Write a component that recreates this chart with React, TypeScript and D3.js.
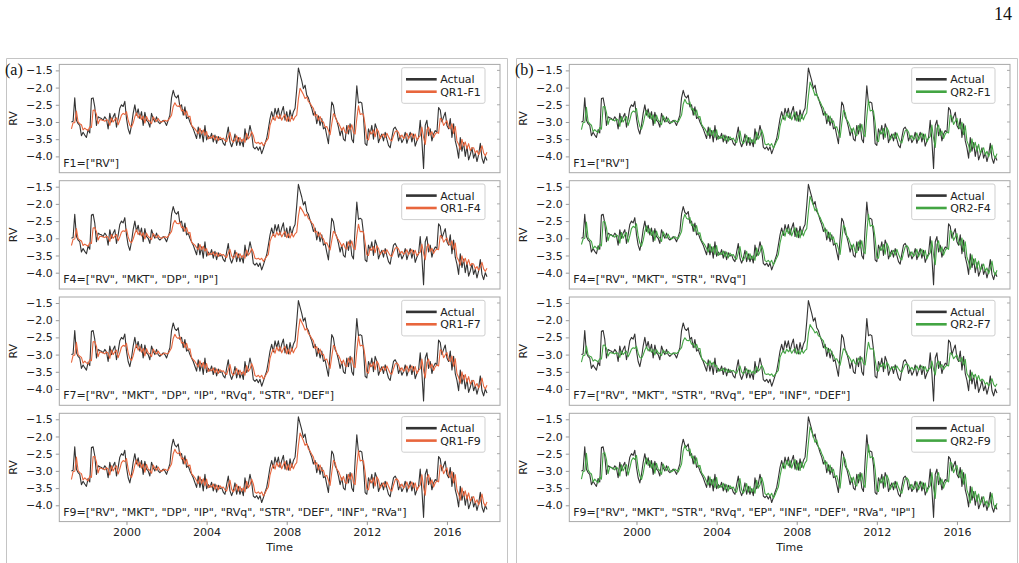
import React, { useEffect, useRef } from "react";
import * as d3 from "d3";

// monthly realised volatility (log), first observation in spring 1997
const START_YEAR = 1997.25;
const yearTicks = [2000, 2004, 2008, 2012, 2016];
const rvTicks = [-1.5, -2.0, -2.5, -3.0, -3.5, -4.0];

const actual = [
  -3.00, -2.98, -2.30, -2.95, -3.05, -3.10, -3.40, -3.30, -3.38, -3.45, -3.22, -3.32,
  -2.32, -2.30, -2.56, -3.10, -2.85, -2.88, -2.90, -2.95, -2.85, -2.92, -3.20, -2.75,
  -3.00, -2.85, -2.75, -3.15, -2.90, -2.60, -2.50, -2.55, -2.40, -2.90, -3.20, -3.35,
  -3.10, -2.75, -2.50, -2.80, -2.62, -2.90, -2.70, -3.10, -2.72, -2.95, -3.00, -3.15,
  -2.75, -2.90, -3.00, -2.85, -3.00, -3.05, -3.00, -2.95, -3.00, -3.10, -2.95, -2.80,
  -2.30, -2.08, -2.25, -2.30, -2.22, -2.56, -2.50, -2.80, -2.56, -2.90, -2.85, -3.00,
  -3.10, -3.20, -3.34, -3.48, -3.15, -3.48, -3.25, -3.58, -3.10, -3.52, -3.40, -3.48,
  -3.33, -3.58, -3.38, -3.62, -3.42, -3.52, -3.48, -3.62, -3.68, -3.40, -3.15, -3.58,
  -3.72, -3.58, -3.35, -3.68, -3.45, -3.68, -3.52, -3.72, -3.20, -3.52, -3.38, -3.10,
  -3.33, -3.73, -3.78, -3.72, -3.82, -3.72, -3.92, -3.78, -3.62, -3.48, -3.20, -2.90,
  -2.70, -2.92, -2.60, -2.80, -2.60, -2.90, -2.70, -2.55, -2.95, -2.70, -2.98, -2.65,
  -2.90, -2.70, -2.60, -2.05, -1.43, -1.62, -1.80, -2.03, -1.93, -2.22, -2.30, -2.47,
  -2.60, -2.80, -2.70, -3.05, -2.82, -3.10, -2.90, -3.20, -3.15, -3.40, -3.63, -3.00,
  -2.42, -2.52, -2.85, -2.95, -3.15, -3.40, -3.20, -3.50, -3.55, -3.10, -3.35, -3.05,
  -3.50, -3.60, -2.70, -1.95, -2.45, -2.42, -2.45, -2.85, -3.63, -3.68, -3.20, -3.35,
  -3.10, -3.50, -3.05, -3.20, -3.60, -3.45, -3.35, -3.55, -3.30, -3.50, -3.68, -3.75,
  -3.45, -3.20, -3.15, -3.25, -3.55, -3.40, -3.60, -3.50, -3.30, -3.62, -3.45, -3.30,
  -3.58, -3.35, -3.70, -3.55, -3.45, -2.95, -3.55, -4.35, -3.10, -2.95, -3.40, -3.20,
  -3.55, -3.35, -3.25, -3.30, -2.58, -2.65, -3.00, -2.85, -2.72, -3.10, -3.20, -2.90,
  -3.45, -3.05, -3.55, -3.75, -4.05, -3.45, -3.85, -3.60, -4.00, -3.70, -4.10, -3.95,
  -3.75, -4.05, -3.90, -4.15, -3.95, -3.62, -4.05, -4.20, -4.00, -4.12,
];

const qr1F1 = [
  -3.20, -3.02, -3.02, -2.68, -3.00, -3.05, -3.08, -3.23, -3.18, -3.22, -3.25, -3.14,
  -3.16, -2.66, -2.65, -2.78, -3.05, -2.93, -2.94, -2.95, -2.98, -2.93, -2.96, -3.10,
  -2.88, -3.00, -2.93, -2.88, -3.08, -2.95, -2.80, -2.75, -2.78, -2.70, -2.95, -3.10,
  -3.15, -3.03, -2.85, -2.73, -2.88, -2.79, -2.93, -2.83, -3.03, -2.84, -2.95, -2.98,
  -3.05, -2.85, -2.93, -2.98, -2.90, -2.98, -3.00, -2.98, -2.95, -2.98, -2.95, -2.88,
  -2.80, -2.55, -2.44, -2.53, -2.55, -2.51, -2.68, -2.65, -2.80, -2.68, -2.85, -2.83,
  -3.10, -3.15, -3.20, -3.27, -3.34, -3.18, -3.34, -3.23, -3.39, -3.28, -3.49, -3.43,
  -3.47, -3.39, -3.52, -3.42, -3.54, -3.44, -3.49, -3.47, -3.54, -3.57, -3.43, -3.30,
  -3.52, -3.59, -3.52, -3.40, -3.57, -3.45, -3.57, -3.49, -3.59, -3.33, -3.49, -3.42,
  -3.28, -3.39, -3.59, -3.62, -3.59, -3.64, -3.59, -3.69, -3.62, -3.54, -3.47, -3.10,
  -2.95, -2.85, -2.96, -2.80, -2.90, -2.80, -2.95, -2.85, -2.78, -2.98, -2.85, -2.99,
  -2.83, -2.95, -2.85, -2.80, -2.33, -2.02, -2.11, -2.20, -2.32, -2.27, -2.41, -2.45,
  -2.54, -2.60, -2.83, -2.78, -2.95, -2.84, -2.98, -3.00, -3.15, -3.13, -3.25, -3.37,
  -3.05, -2.76, -2.81, -2.98, -3.03, -3.13, -3.25, -3.15, -3.30, -3.33, -3.10, -3.23,
  -3.08, -3.30, -3.35, -2.90, -2.53, -2.78, -2.76, -2.78, -3.10, -3.49, -3.52, -3.28,
  -3.35, -3.23, -3.43, -3.20, -3.28, -3.48, -3.40, -3.35, -3.45, -3.33, -3.43, -3.52,
  -3.55, -3.40, -3.28, -3.25, -3.30, -3.45, -3.38, -3.48, -3.43, -3.33, -3.49, -3.40,
  -3.33, -3.47, -3.35, -3.53, -3.45, -3.40, -3.15, -3.45, -3.65, -3.23, -3.15, -3.38,
  -3.28, -3.45, -3.35, -3.30, -3.33, -2.89, -2.93, -3.10, -3.03, -2.96, -3.15, -3.20,
  -3.05, -3.33, -3.13, -3.55, -3.65, -3.80, -3.50, -3.70, -3.58, -3.78, -3.63, -3.83,
  -3.75, -3.75, -3.90, -3.83, -3.95, -3.85, -3.69, -3.90, -3.98, -3.88,
];

const qr1F4 = [
  -3.21, -3.03, -3.02, -2.72, -3.01, -3.05, -3.08, -3.21, -3.17, -3.20, -3.23, -3.13,
  -3.15, -2.70, -2.69, -2.80, -3.05, -2.94, -2.95, -2.96, -2.98, -2.94, -2.97, -3.09,
  -2.89, -3.00, -2.94, -2.89, -3.07, -2.96, -2.82, -2.78, -2.80, -2.73, -2.96, -3.09,
  -3.13, -3.02, -2.86, -2.75, -2.89, -2.81, -2.93, -2.84, -3.02, -2.85, -2.95, -2.98,
  -3.04, -2.86, -2.93, -2.98, -2.91, -2.98, -3.00, -2.98, -2.95, -2.98, -2.94, -2.87,
  -2.80, -2.58, -2.48, -2.56, -2.58, -2.54, -2.69, -2.67, -2.80, -2.69, -2.85, -2.83,
  -3.11, -3.16, -3.20, -3.27, -3.33, -3.18, -3.33, -3.23, -3.37, -3.30, -3.49, -3.43,
  -3.47, -3.40, -3.51, -3.42, -3.53, -3.44, -3.49, -3.47, -3.53, -3.56, -3.43, -3.32,
  -3.51, -3.58, -3.51, -3.41, -3.56, -3.45, -3.56, -3.49, -3.58, -3.34, -3.49, -3.42,
  -3.30, -3.40, -3.58, -3.60, -3.58, -3.62, -3.58, -3.67, -3.60, -3.53, -3.47, -3.09,
  -2.96, -2.87, -2.97, -2.82, -2.91, -2.82, -2.96, -2.87, -2.80, -2.98, -2.87, -2.99,
  -2.85, -2.96, -2.87, -2.82, -2.36, -2.08, -2.16, -2.24, -2.35, -2.30, -2.43, -2.47,
  -2.55, -2.60, -2.83, -2.79, -2.94, -2.84, -2.97, -3.01, -3.15, -3.13, -3.24, -3.34,
  -3.06, -2.80, -2.84, -2.99, -3.04, -3.13, -3.24, -3.15, -3.28, -3.31, -3.10, -3.22,
  -3.08, -3.28, -3.33, -2.92, -2.59, -2.81, -2.80, -2.81, -3.13, -3.48, -3.50, -3.29,
  -3.35, -3.24, -3.42, -3.22, -3.29, -3.47, -3.40, -3.35, -3.44, -3.33, -3.42, -3.50,
  -3.53, -3.40, -3.29, -3.26, -3.31, -3.44, -3.38, -3.47, -3.42, -3.33, -3.48, -3.40,
  -3.33, -3.46, -3.35, -3.51, -3.44, -3.40, -3.17, -3.44, -3.62, -3.24, -3.17, -3.38,
  -3.29, -3.44, -3.35, -3.31, -3.33, -2.92, -2.96, -3.11, -3.05, -2.99, -3.16, -3.20,
  -3.07, -3.32, -3.14, -3.55, -3.64, -3.78, -3.51, -3.69, -3.58, -3.76, -3.62, -3.80,
  -3.73, -3.75, -3.89, -3.82, -3.93, -3.84, -3.70, -3.89, -3.96, -3.87,
];

const qr1F7 = [
  -3.23, -3.02, -3.02, -2.64, -3.00, -3.05, -3.08, -3.25, -3.19, -3.24, -3.27, -3.15,
  -3.18, -2.63, -2.62, -2.76, -3.06, -2.92, -2.94, -2.95, -2.98, -2.92, -2.96, -3.11,
  -2.87, -3.00, -2.92, -2.87, -3.09, -2.95, -2.78, -2.73, -2.76, -2.67, -2.95, -3.11,
  -3.17, -3.04, -2.84, -2.71, -2.87, -2.77, -2.93, -2.82, -3.04, -2.83, -2.95, -2.98,
  -3.06, -2.84, -2.93, -2.98, -2.90, -2.98, -3.01, -2.98, -2.95, -2.98, -2.97, -2.89,
  -2.80, -2.53, -2.41, -2.50, -2.53, -2.48, -2.67, -2.64, -2.80, -2.67, -2.86, -2.83,
  -3.09, -3.15, -3.20, -3.28, -3.36, -3.18, -3.36, -3.23, -3.41, -3.26, -3.49, -3.43,
  -3.47, -3.39, -3.53, -3.42, -3.55, -3.44, -3.49, -3.47, -3.55, -3.58, -3.43, -3.29,
  -3.53, -3.60, -3.53, -3.40, -3.58, -3.45, -3.58, -3.49, -3.60, -3.32, -3.49, -3.42,
  -3.26, -3.39, -3.61, -3.64, -3.60, -3.66, -3.60, -3.71, -3.64, -3.55, -3.47, -3.11,
  -2.95, -2.84, -2.96, -2.78, -2.89, -2.78, -2.95, -2.84, -2.76, -2.98, -2.84, -2.99,
  -2.81, -2.95, -2.84, -2.78, -2.30, -1.96, -2.06, -2.16, -2.29, -2.24, -2.39, -2.44,
  -2.53, -2.60, -2.83, -2.77, -2.96, -2.84, -2.99, -2.99, -3.16, -3.13, -3.27, -3.40,
  -3.05, -2.73, -2.78, -2.97, -3.02, -3.13, -3.27, -3.16, -3.32, -3.35, -3.10, -3.24,
  -3.08, -3.32, -3.38, -2.88, -2.47, -2.75, -2.73, -2.75, -3.08, -3.51, -3.54, -3.27,
  -3.35, -3.22, -3.44, -3.19, -3.27, -3.49, -3.41, -3.35, -3.46, -3.33, -3.44, -3.54,
  -3.57, -3.41, -3.27, -3.24, -3.30, -3.46, -3.38, -3.49, -3.44, -3.33, -3.50, -3.41,
  -3.33, -3.48, -3.35, -3.55, -3.46, -3.41, -3.13, -3.46, -3.68, -3.22, -3.13, -3.38,
  -3.27, -3.46, -3.35, -3.30, -3.33, -2.86, -2.90, -3.09, -3.01, -2.94, -3.15, -3.20,
  -3.04, -3.34, -3.12, -3.55, -3.66, -3.83, -3.50, -3.72, -3.58, -3.80, -3.64, -3.86,
  -3.77, -3.75, -3.92, -3.84, -3.97, -3.86, -3.68, -3.92, -4.00, -3.89,
];

const qr1F9 = [
  -3.25, -3.02, -3.01, -2.60, -2.99, -3.05, -3.08, -3.26, -3.20, -3.25, -3.29, -3.15,
  -3.19, -2.59, -2.58, -2.74, -3.06, -2.91, -2.93, -2.94, -2.97, -2.91, -2.95, -3.12,
  -2.85, -3.00, -2.91, -2.85, -3.09, -2.94, -2.76, -2.70, -2.73, -2.64, -2.94, -3.12,
  -3.19, -3.04, -2.83, -2.68, -2.86, -2.75, -2.92, -2.80, -3.04, -2.81, -2.95, -2.98,
  -3.07, -2.83, -2.92, -2.98, -2.89, -2.98, -3.01, -2.98, -2.95, -2.98, -2.98, -2.89,
  -2.80, -2.50, -2.37, -2.47, -2.50, -2.45, -2.66, -2.62, -2.80, -2.66, -2.86, -2.83,
  -3.08, -3.14, -3.20, -3.28, -3.37, -3.17, -3.37, -3.23, -3.43, -3.24, -3.49, -3.42,
  -3.47, -3.38, -3.53, -3.41, -3.55, -3.43, -3.49, -3.47, -3.55, -3.59, -3.42, -3.27,
  -3.53, -3.61, -3.53, -3.39, -3.59, -3.45, -3.59, -3.49, -3.61, -3.30, -3.49, -3.41,
  -3.24, -3.38, -3.62, -3.65, -3.61, -3.67, -3.61, -3.73, -3.65, -3.55, -3.47, -3.12,
  -2.94, -2.82, -2.95, -2.76, -2.88, -2.76, -2.94, -2.82, -2.73, -2.97, -2.82, -2.99,
  -2.79, -2.94, -2.82, -2.76, -2.27, -1.90, -2.01, -2.12, -2.26, -2.20, -2.37, -2.42,
  -2.52, -2.60, -2.82, -2.76, -2.97, -2.83, -3.00, -2.98, -3.16, -3.13, -3.28, -3.42,
  -3.04, -2.69, -2.75, -2.95, -3.01, -3.13, -3.28, -3.16, -3.34, -3.37, -3.10, -3.25,
  -3.07, -3.34, -3.40, -2.86, -2.41, -2.71, -2.69, -2.71, -3.05, -3.52, -3.55, -3.26,
  -3.35, -3.20, -3.44, -3.17, -3.26, -3.50, -3.41, -3.35, -3.47, -3.32, -3.44, -3.55,
  -3.59, -3.41, -3.26, -3.23, -3.29, -3.47, -3.38, -3.50, -3.44, -3.32, -3.51, -3.41,
  -3.32, -3.49, -3.35, -3.56, -3.47, -3.41, -3.11, -3.47, -3.71, -3.20, -3.11, -3.38,
  -3.26, -3.47, -3.35, -3.29, -3.32, -2.83, -2.87, -3.08, -2.99, -2.91, -3.14, -3.20,
  -3.02, -3.35, -3.11, -3.55, -3.67, -3.85, -3.49, -3.73, -3.58, -3.82, -3.64, -3.88,
  -3.79, -3.75, -3.93, -3.84, -3.99, -3.87, -3.67, -3.93, -4.02, -3.90,
];

const qr2F1 = [
  -3.22, -3.02, -3.01, -2.57, -2.99, -3.05, -3.09, -3.28, -3.22, -3.27, -3.31, -3.16,
  -3.21, -2.56, -2.55, -2.72, -3.07, -2.91, -2.93, -2.94, -2.97, -2.91, -2.95, -3.13,
  -2.84, -3.00, -2.91, -2.84, -3.10, -2.94, -2.74, -2.68, -2.71, -2.61, -2.94, -3.13,
  -3.21, -3.05, -2.82, -2.66, -2.86, -2.74, -2.92, -2.79, -3.05, -2.80, -2.95, -2.99,
  -3.08, -2.82, -2.92, -2.99, -2.89, -2.99, -3.02, -2.99, -2.95, -2.99, -3.00, -2.90,
  -2.80, -2.48, -2.34, -2.45, -2.48, -2.42, -2.65, -2.61, -2.80, -2.65, -2.87, -2.84,
  -3.07, -3.14, -3.20, -3.29, -3.39, -3.17, -3.39, -3.24, -3.45, -3.23, -3.50, -3.42,
  -3.47, -3.38, -3.54, -3.41, -3.56, -3.43, -3.50, -3.47, -3.56, -3.60, -3.42, -3.26,
  -3.54, -3.63, -3.54, -3.39, -3.60, -3.45, -3.60, -3.50, -3.63, -3.29, -3.50, -3.41,
  -3.23, -3.38, -3.64, -3.67, -3.63, -3.69, -3.63, -3.76, -3.67, -3.56, -3.47, -3.13,
  -2.94, -2.81, -2.95, -2.74, -2.87, -2.74, -2.94, -2.81, -2.71, -2.97, -2.81, -2.99,
  -2.78, -2.94, -2.81, -2.74, -2.25, -1.84, -1.96, -2.08, -2.23, -2.17, -2.35, -2.41,
  -2.52, -2.60, -2.82, -2.76, -2.98, -2.83, -3.02, -2.97, -3.17, -3.14, -3.30, -3.45,
  -3.04, -2.66, -2.72, -2.94, -3.01, -3.14, -3.30, -3.17, -3.36, -3.40, -3.10, -3.27,
  -3.07, -3.36, -3.43, -2.84, -2.36, -2.68, -2.66, -2.68, -3.03, -3.54, -3.57, -3.26,
  -3.35, -3.19, -3.45, -3.16, -3.26, -3.52, -3.42, -3.35, -3.48, -3.32, -3.45, -3.57,
  -3.61, -3.42, -3.26, -3.22, -3.29, -3.48, -3.39, -3.52, -3.45, -3.32, -3.53, -3.42,
  -3.32, -3.50, -3.35, -3.58, -3.48, -3.42, -3.09, -3.48, -3.74, -3.19, -3.09, -3.39,
  -3.26, -3.48, -3.35, -3.29, -3.32, -2.80, -2.85, -3.07, -2.98, -2.89, -3.14, -3.20,
  -3.01, -3.37, -3.11, -3.55, -3.68, -3.88, -3.49, -3.75, -3.59, -3.85, -3.65, -3.91,
  -3.81, -3.75, -3.95, -3.85, -4.01, -3.88, -3.67, -3.95, -4.05, -3.92,
];

const qr2F4 = [
  -3.18, -3.02, -3.00, -2.53, -2.98, -3.05, -3.09, -3.30, -3.23, -3.28, -3.33, -3.17,
  -3.22, -2.52, -2.51, -2.69, -3.07, -2.90, -2.92, -2.93, -2.97, -2.90, -2.94, -3.14,
  -2.83, -3.00, -2.90, -2.83, -3.11, -2.93, -2.72, -2.65, -2.69, -2.58, -2.93, -3.14,
  -3.23, -3.06, -2.81, -2.64, -2.85, -2.72, -2.92, -2.78, -3.06, -2.79, -2.95, -2.99,
  -3.09, -2.81, -2.92, -2.99, -2.88, -2.99, -3.02, -2.99, -2.95, -2.99, -3.01, -2.91,
  -2.80, -2.45, -2.30, -2.42, -2.45, -2.39, -2.63, -2.59, -2.80, -2.63, -2.87, -2.84,
  -3.06, -3.13, -3.20, -3.30, -3.40, -3.17, -3.40, -3.24, -3.47, -3.21, -3.50, -3.42,
  -3.47, -3.37, -3.54, -3.40, -3.57, -3.43, -3.50, -3.47, -3.57, -3.61, -3.42, -3.24,
  -3.54, -3.64, -3.54, -3.38, -3.61, -3.45, -3.61, -3.50, -3.64, -3.28, -3.50, -3.40,
  -3.21, -3.37, -3.65, -3.68, -3.64, -3.71, -3.64, -3.78, -3.68, -3.57, -3.47, -3.14,
  -2.93, -2.79, -2.94, -2.72, -2.86, -2.72, -2.93, -2.79, -2.69, -2.97, -2.79, -2.99,
  -2.76, -2.93, -2.79, -2.72, -2.22, -1.78, -1.91, -2.04, -2.20, -2.13, -2.33, -2.39,
  -2.51, -2.60, -2.82, -2.75, -2.99, -2.83, -3.03, -2.96, -3.17, -3.14, -3.31, -3.47,
  -3.03, -2.62, -2.69, -2.93, -3.00, -3.14, -3.31, -3.17, -3.38, -3.42, -3.10, -3.28,
  -3.07, -3.38, -3.45, -2.82, -2.30, -2.65, -2.62, -2.65, -3.00, -3.55, -3.58, -3.25,
  -3.35, -3.18, -3.46, -3.14, -3.25, -3.53, -3.42, -3.35, -3.49, -3.32, -3.46, -3.58,
  -3.63, -3.42, -3.25, -3.21, -3.28, -3.49, -3.39, -3.53, -3.46, -3.32, -3.54, -3.42,
  -3.32, -3.51, -3.35, -3.60, -3.49, -3.42, -3.07, -3.49, -3.77, -3.18, -3.07, -3.39,
  -3.25, -3.49, -3.35, -3.28, -3.32, -2.77, -2.82, -3.06, -2.96, -2.86, -3.13, -3.20,
  -2.99, -3.38, -3.10, -3.55, -3.69, -3.90, -3.48, -3.76, -3.59, -3.87, -3.66, -3.94,
  -3.83, -3.75, -3.96, -3.86, -4.03, -3.89, -3.66, -3.96, -4.07, -3.93,
];

const qr2F7 = [
  -3.22, -3.03, -3.02, -2.75, -3.01, -3.05, -3.07, -3.19, -3.15, -3.18, -3.21, -3.12,
  -3.13, -2.73, -2.72, -2.82, -3.04, -2.94, -2.95, -2.96, -2.98, -2.94, -2.97, -3.08,
  -2.90, -3.00, -2.94, -2.90, -3.06, -2.96, -2.84, -2.80, -2.82, -2.76, -2.96, -3.08,
  -3.11, -3.01, -2.87, -2.77, -2.89, -2.82, -2.93, -2.85, -3.01, -2.86, -2.95, -2.97,
  -3.03, -2.87, -2.93, -2.97, -2.91, -2.97, -2.99, -2.97, -2.95, -2.97, -2.92, -2.86,
  -2.80, -2.60, -2.51, -2.58, -2.60, -2.57, -2.70, -2.68, -2.80, -2.70, -2.84, -2.82,
  -3.12, -3.16, -3.20, -3.26, -3.31, -3.18, -3.31, -3.22, -3.35, -3.31, -3.48, -3.43,
  -3.46, -3.40, -3.50, -3.42, -3.52, -3.44, -3.48, -3.46, -3.52, -3.54, -3.43, -3.33,
  -3.50, -3.56, -3.50, -3.41, -3.54, -3.45, -3.54, -3.48, -3.56, -3.35, -3.48, -3.42,
  -3.31, -3.40, -3.56, -3.58, -3.56, -3.60, -3.56, -3.64, -3.58, -3.52, -3.46, -3.08,
  -2.96, -2.88, -2.97, -2.84, -2.92, -2.84, -2.96, -2.88, -2.82, -2.98, -2.88, -2.99,
  -2.86, -2.96, -2.88, -2.84, -2.38, -2.13, -2.21, -2.28, -2.37, -2.33, -2.45, -2.48,
  -2.55, -2.60, -2.83, -2.79, -2.93, -2.84, -2.95, -3.02, -3.14, -3.12, -3.22, -3.31,
  -3.06, -2.83, -2.87, -3.00, -3.04, -3.12, -3.22, -3.14, -3.26, -3.28, -3.10, -3.20,
  -3.08, -3.26, -3.30, -2.94, -2.64, -2.84, -2.83, -2.84, -3.15, -3.46, -3.48, -3.29,
  -3.35, -3.25, -3.41, -3.23, -3.29, -3.45, -3.39, -3.35, -3.43, -3.33, -3.41, -3.48,
  -3.51, -3.39, -3.29, -3.27, -3.31, -3.43, -3.37, -3.45, -3.41, -3.33, -3.46, -3.39,
  -3.33, -3.44, -3.35, -3.49, -3.43, -3.39, -3.19, -3.43, -3.59, -3.25, -3.19, -3.37,
  -3.29, -3.43, -3.35, -3.31, -3.33, -2.95, -2.98, -3.12, -3.06, -3.01, -3.16, -3.20,
  -3.08, -3.30, -3.14, -3.55, -3.63, -3.75, -3.51, -3.67, -3.57, -3.73, -3.61, -3.77,
  -3.71, -3.75, -3.87, -3.81, -3.91, -3.83, -3.70, -3.87, -3.93, -3.85,
];

const qr2F9 = [
  -3.24, -3.02, -3.00, -2.49, -2.97, -3.05, -3.09, -3.32, -3.24, -3.30, -3.35, -3.18,
  -3.24, -2.49, -2.47, -2.67, -3.08, -2.89, -2.91, -2.92, -2.97, -2.89, -2.94, -3.15,
  -2.82, -3.00, -2.89, -2.82, -3.12, -2.92, -2.70, -2.62, -2.67, -2.55, -2.92, -3.15,
  -3.25, -3.07, -2.80, -2.62, -2.84, -2.70, -2.92, -2.77, -3.07, -2.78, -2.95, -2.99,
  -3.10, -2.80, -2.92, -2.99, -2.87, -2.99, -3.03, -2.99, -2.95, -2.99, -3.03, -2.92,
  -2.80, -2.42, -2.26, -2.39, -2.42, -2.36, -2.62, -2.57, -2.80, -2.62, -2.88, -2.84,
  -3.05, -3.12, -3.20, -3.31, -3.41, -3.17, -3.41, -3.24, -3.49, -3.19, -3.50, -3.42,
  -3.47, -3.36, -3.55, -3.40, -3.58, -3.43, -3.50, -3.47, -3.58, -3.62, -3.42, -3.22,
  -3.55, -3.65, -3.55, -3.37, -3.62, -3.45, -3.62, -3.50, -3.65, -3.27, -3.50, -3.40,
  -3.19, -3.36, -3.66, -3.70, -3.65, -3.73, -3.65, -3.80, -3.70, -3.58, -3.47, -3.15,
  -2.92, -2.77, -2.94, -2.70, -2.85, -2.70, -2.92, -2.77, -2.67, -2.97, -2.77, -2.99,
  -2.74, -2.92, -2.77, -2.70, -2.19, -1.72, -1.86, -2.00, -2.17, -2.10, -2.31, -2.37,
  -2.50, -2.60, -2.82, -2.74, -3.00, -2.83, -3.04, -2.95, -3.18, -3.14, -3.33, -3.50,
  -3.02, -2.59, -2.66, -2.92, -2.99, -3.14, -3.33, -3.18, -3.40, -3.44, -3.10, -3.29,
  -3.07, -3.40, -3.48, -2.80, -2.24, -2.62, -2.59, -2.62, -2.97, -3.56, -3.60, -3.24,
  -3.35, -3.17, -3.47, -3.12, -3.24, -3.54, -3.43, -3.35, -3.50, -3.32, -3.47, -3.60,
  -3.65, -3.43, -3.24, -3.20, -3.27, -3.50, -3.39, -3.54, -3.47, -3.32, -3.55, -3.43,
  -3.32, -3.52, -3.35, -3.62, -3.50, -3.43, -3.05, -3.50, -3.80, -3.17, -3.05, -3.39,
  -3.24, -3.50, -3.35, -3.27, -3.32, -2.74, -2.79, -3.05, -2.94, -2.84, -3.12, -3.20,
  -2.97, -3.39, -3.09, -3.55, -3.70, -3.93, -3.47, -3.78, -3.59, -3.89, -3.67, -3.97,
  -3.85, -3.75, -3.98, -3.87, -4.05, -3.90, -3.65, -3.98, -4.09, -3.94,
];

const featuresA = [
  'F1=["RV"]',
  'F4=["RV", "MKT", "DP", "IP"]',
  'F7=["RV", "MKT", "DP", "IP", "RVq", "STR", "DEF"]',
  'F9=["RV", "MKT", "DP", "IP", "RVq", "STR", "DEF", "INF", "RVa"]',
];
const featuresB = [
  'F1=["RV"]',
  'F4=["RV", "MKT", "STR", "RVq"]',
  'F7=["RV", "MKT", "STR", "RVq", "EP", "INF", "DEF"]',
  'F9=["RV", "MKT", "STR", "RVq", "EP", "INF", "DEF", "RVa", "IP"]',
];

const groups = [
  {
    tag: "(a)",
    color: "#e8663d",
    names: ["QR1-F1", "QR1-F4", "QR1-F7", "QR1-F9"],
    series: [qr1F1, qr1F4, qr1F7, qr1F9],
    features: featuresA,
  },
  {
    tag: "(b)",
    color: "#43a543",
    names: ["QR2-F1", "QR2-F4", "QR2-F7", "QR2-F9"],
    series: [qr2F1, qr2F4, qr2F7, qr2F9],
    features: featuresB,
  },
];

const W = 1019;
const H = 563;

const App = () => {
  const svgRef = useRef(null);

  useEffect(() => {
    const svg = d3.select(svgRef.current).attr("width", W).attr("height", H);
    svg.selectAll("*").remove();

    const sans = "'DejaVu Sans', sans-serif";
    const serif = "'Liberation Serif', 'Times New Roman', serif";

    svg.append("rect").attr("width", W).attr("height", H).attr("fill", "#fff");

    // page number
    svg
      .append("text")
      .attr("x", 1012)
      .attr("y", 20)
      .attr("text-anchor", "end")
      .attr("font-family", serif)
      .attr("font-size", 18)
      .attr("fill", "#111")
      .text("14");

    const panelTops = [64.4, 180.7, 297, 413.3];
    const panelH = 108.3;
    const months = actual.map((_, i) => START_YEAR + i / 12);

    groups.forEach((g, gi) => {
      const ox = gi * 510;
      const left = 59.3 + ox;
      const right = 500 + ox;

      // figure box (open at the bottom of the page)
      svg
        .append("path")
        .attr("d", `M${6.5 + ox},${H}V58.5H${507.5 + ox}V${H}`)
        .attr("fill", "none")
        .attr("stroke", "#c4c4c4")
        .attr("stroke-width", 1);

      svg
        .append("text")
        .attr("x", 5 + ox)
        .attr("y", 75)
        .attr("font-family", serif)
        .attr("font-size", 16)
        .attr("fill", "#111")
        .text(g.tag);

      const x = d3.scaleLinear().domain([1996.645, 2018.65]).range([left, right]);

      g.series.forEach((pred, pi) => {
        const top = panelTops[pi];
        const bottom = top + panelH;
        const y = d3.scaleLinear().domain([-4.474, -1.326]).range([bottom, top]);
        const panel = svg.append("g");

        // y axis
        const yAxis = panel
          .append("g")
          .attr("transform", `translate(${left},0)`)
          .call(
            d3
              .axisLeft(y)
              .tickValues(rvTicks)
              .tickSize(3.5)
              .tickPadding(3)
              .tickFormat(d3.format(".1f"))
          );
        yAxis.select(".domain").remove();
        yAxis.selectAll("line").attr("stroke", "#999");
        yAxis
          .selectAll("text")
          .attr("font-family", sans)
          .attr("font-size", 11)
          .attr("fill", "#222");

        // small inner ticks on the right spine
        panel
          .selectAll(".rtick")
          .data(rvTicks)
          .enter()
          .append("line")
          .attr("x1", right - 3)
          .attr("x2", right)
          .attr("y1", (d) => y(d))
          .attr("y2", (d) => y(d))
          .attr("stroke", "#aaa");

        panel
          .append("text")
          .attr("transform", `translate(${13.5 + ox},${(top + bottom) / 2}) rotate(-90)`)
          .attr("text-anchor", "middle")
          .attr("dominant-baseline", "central")
          .attr("font-family", sans)
          .attr("font-size", 11)
          .attr("fill", "#222")
          .text("RV");

        const line = d3
          .line()
          .x((_, i) => x(months[i]))
          .y((d) => y(d));

        panel
          .append("path")
          .datum(actual)
          .attr("d", line)
          .attr("fill", "none")
          .attr("stroke", "#333")
          .attr("stroke-width", 1.1)
          .attr("stroke-linejoin", "round");

        panel
          .append("path")
          .datum(pred)
          .attr("d", line)
          .attr("fill", "none")
          .attr("stroke", g.color)
          .attr("stroke-width", 1.1)
          .attr("stroke-linejoin", "round");

        // frame
        panel
          .append("rect")
          .attr("x", left)
          .attr("y", top)
          .attr("width", right - left)
          .attr("height", panelH)
          .attr("fill", "none")
          .attr("stroke", "#a8a8a8")
          .attr("stroke-width", 1);

        // legend
        const lx = right - 98.3;
        const ly = top + 3.3;
        const legend = panel.append("g").attr("transform", `translate(${lx},${ly})`);
        legend
          .append("rect")
          .attr("width", 83.3)
          .attr("height", 35.6)
          .attr("rx", 2)
          .attr("fill", "#fff")
          .attr("fill-opacity", 0.85)
          .attr("stroke", "#cfcfcf");
        const entries = [
          { label: "Actual", color: "#333" },
          { label: g.names[pi], color: g.color },
        ];
        const item = legend
          .selectAll(".item")
          .data(entries)
          .enter()
          .append("g")
          .attr("transform", (_, i) => `translate(0,${11.6 + i * 12.4})`);
        item
          .append("line")
          .attr("x1", 4.3)
          .attr("x2", 35)
          .attr("stroke", (d) => d.color)
          .attr("stroke-width", 2.6);
        item
          .append("text")
          .attr("x", 38.5)
          .attr("dy", "0.36em")
          .attr("font-family", sans)
          .attr("font-size", 11)
          .attr("fill", "#222")
          .text((d) => d.label);

        panel
          .append("text")
          .attr("x", left + 4)
          .attr("y", bottom - 6)
          .attr("font-family", sans)
          .attr("font-size", 11)
          .attr("fill", "#222")
          .text(g.features[pi]);

        if (pi === g.series.length - 1) {
          const xAxis = panel
            .append("g")
            .attr("transform", `translate(0,${bottom})`)
            .call(d3.axisBottom(x).tickValues(yearTicks).tickSize(3.5).tickPadding(3).tickFormat(d3.format("d")));
          xAxis.select(".domain").remove();
          xAxis.selectAll("line").attr("stroke", "#999");
          xAxis
            .selectAll("text")
            .attr("font-family", sans)
            .attr("font-size", 11)
            .attr("fill", "#222");

          panel
            .append("text")
            .attr("x", (left + right) / 2)
            .attr("y", 551)
            .attr("text-anchor", "middle")
            .attr("font-family", sans)
            .attr("font-size", 11)
            .attr("fill", "#222")
            .text("Time");
        }
      });
    });
  }, []);

  return <svg ref={svgRef} style={{ position: "absolute", left: 0, top: 0 }}></svg>;
};

export default App;
